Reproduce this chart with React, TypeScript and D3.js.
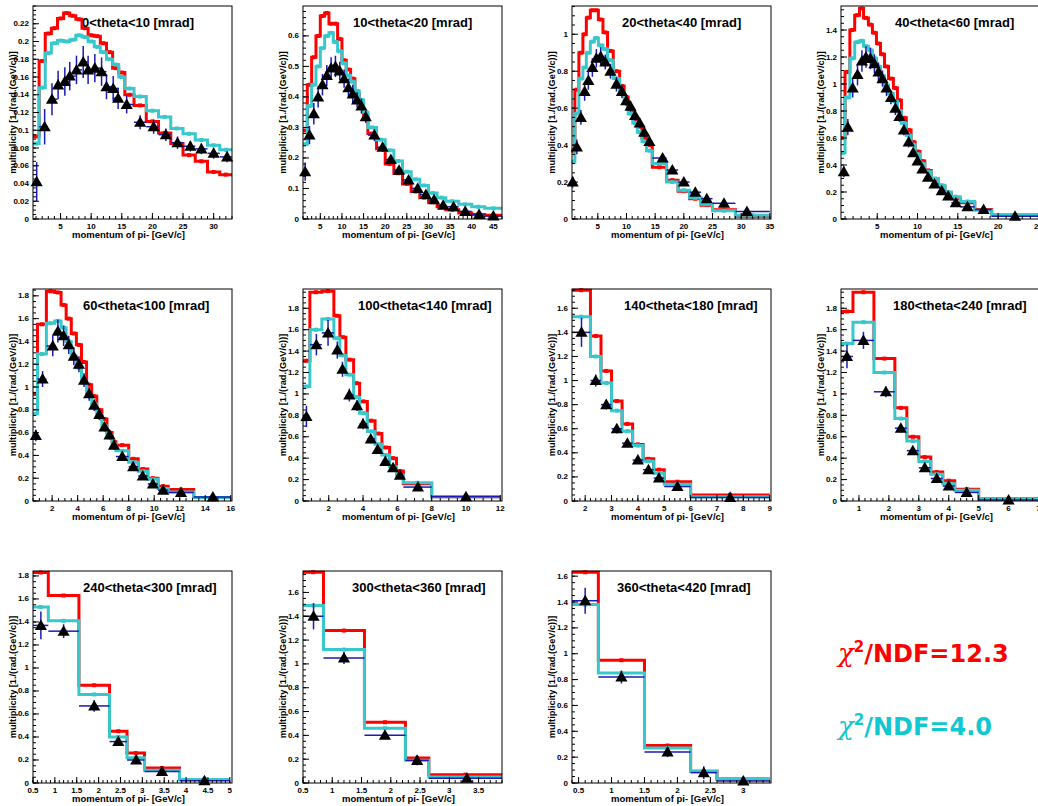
import React from "react";
import * as d3 from "d3";

// ---------------- data ----------------
const titles = [
  "0<theta<10 [mrad]",
  "10<theta<20 [mrad]",
  "20<theta<40 [mrad]",
  "40<theta<60 [mrad]",
  "60<theta<100 [mrad]",
  "100<theta<140 [mrad]",
  "140<theta<180 [mrad]",
  "180<theta<240 [mrad]",
  "240<theta<300 [mrad]",
  "300<theta<360 [mrad]",
  "360<theta<420 [mrad]",
];
const yTitle = "multiplicity [1./(rad.(GeV/c))]";
const xTitle = "momentum of pi- [GeV/c]";
const chi2Red = "12.3";
const chi2Cyan = "4.0";

// panel 1: 0<theta<10
const edges1 = [0.5, 1.5, 2.5, 3.5, 4.5, 5.5, 6.5, 7.5, 8.5, 9.5, 10.5, 11.5, 12.5, 13.5, 14.5, 15.5, 17, 19, 21, 23, 25, 27, 29, 31, 33];
const red1 = [0.093, 0.178, 0.209, 0.215, 0.226, 0.232, 0.229, 0.225, 0.215, 0.207, 0.206, 0.198, 0.188, 0.17, 0.165, 0.14, 0.128, 0.11, 0.097, 0.085, 0.072, 0.065, 0.053, 0.05];
const cyan1 = [0.085, 0.148, 0.187, 0.198, 0.201, 0.2, 0.202, 0.207, 0.205, 0.2, 0.194, 0.188, 0.18, 0.174, 0.16, 0.147, 0.138, 0.122, 0.115, 0.102, 0.096, 0.089, 0.083, 0.078];
const dataX1 = [1.1, 2.4, 3.6, 4.6, 5.7, 6.5, 7.6, 8.7, 9.5, 10.6, 11.7, 12.5, 13.6, 14.4, 15.8, 18, 20.2, 22.2, 24.1, 26.2, 28, 30, 32.2];
const dataY1 = [0.042, 0.104, 0.135, 0.151, 0.155, 0.161, 0.168, 0.177, 0.168, 0.17, 0.166, 0.149, 0.147, 0.136, 0.129, 0.109, 0.104, 0.095, 0.086, 0.082, 0.079, 0.074, 0.07];
const err1 = [0.022, 0.02, 0.018, 0.016, 0.016, 0.016, 0.016, 0.018, 0.016, 0.016, 0.016, 0.014, 0.014, 0.012, 0.01, 0.008, 0.008, 0.007, 0.007, 0.006, 0.006, 0.006, 0.006];

// panel 2: 10<theta<20
const edges2 = [1, 2, 3, 4, 5, 6, 7, 8, 9, 10, 11, 12, 13, 14, 15, 16, 18, 20, 22, 24, 26, 28, 30, 32, 34, 37, 40, 43, 47];
const red2 = [0.29, 0.44, 0.53, 0.6, 0.665, 0.675, 0.64, 0.64, 0.59, 0.52, 0.49, 0.46, 0.41, 0.38, 0.34, 0.28, 0.23, 0.18, 0.15, 0.115, 0.09, 0.07, 0.055, 0.04, 0.03, 0.02, 0.015, 0.012];
const cyan2 = [0.245, 0.37, 0.44, 0.5, 0.56, 0.6, 0.61, 0.58, 0.55, 0.51, 0.47, 0.45, 0.42, 0.39, 0.35, 0.3, 0.26, 0.225, 0.19, 0.155, 0.13, 0.11, 0.085, 0.07, 0.058, 0.048, 0.04, 0.035];
const dataX2 = [1.5, 2.5, 3.5, 4.5, 5.5, 6.5, 7.5, 8.5, 9.5, 10.5, 11.5, 12.5, 13.5, 14.5, 15.5, 17.5, 19.4, 21.3, 23.2, 25.4, 27.5, 29.4, 31.3, 33.4, 35.8, 38.5, 41.7, 45];
const dataY2 = [0.155, 0.275, 0.345, 0.4, 0.44, 0.47, 0.495, 0.5, 0.485, 0.46, 0.43, 0.41, 0.39, 0.37, 0.335, 0.275, 0.235, 0.195, 0.16, 0.128, 0.1, 0.08, 0.063, 0.045, 0.04, 0.025, 0.015, 0.01];
const err2 = [0.03, 0.03, 0.035, 0.035, 0.035, 0.035, 0.035, 0.035, 0.03, 0.03, 0.03, 0.03, 0.025, 0.025, 0.02, 0.02, 0.015, 0.015, 0.012, 0.01, 0.01, 0.008, 0.007, 0.006, 0.005, 0.005, 0.004, 0.004];

// panel 3: 20<theta<40
const edges3 = [0.5, 1.0, 1.7, 2.4, 3.0, 3.7, 4.4, 5.1, 5.9, 6.7, 7.7, 8.8, 9.6, 10.3, 11.1, 11.9, 12.7, 13.5, 14.5, 17, 19, 21, 23, 25, 29, 35];
const red3 = [0.37, 0.7, 0.9, 1.0, 1.09, 1.13, 1.13, 1.08, 1.01, 0.91, 0.8, 0.72, 0.66, 0.6, 0.55, 0.5, 0.44, 0.4, 0.28, 0.21, 0.15, 0.11, 0.075, 0.05, 0.015];
const cyan3 = [0.31, 0.57, 0.76, 0.82, 0.9, 0.96, 0.98, 0.94, 0.92, 0.86, 0.76, 0.69, 0.63, 0.57, 0.52, 0.47, 0.42, 0.37, 0.3, 0.2, 0.155, 0.115, 0.08, 0.045, 0.02];
const dataX3 = [0.62, 1.35, 2.05, 2.7, 3.35, 4.05, 4.75, 5.5, 6.3, 7.2, 8.25, 9.2, 9.95, 10.7, 11.5, 12.3, 13.1, 14.0, 16.3, 18, 20, 22, 24, 27, 31];
const dataY3 = [0.2, 0.39, 0.55, 0.69, 0.75, 0.82, 0.87, 0.88, 0.85, 0.8, 0.73, 0.69, 0.64, 0.61, 0.56, 0.52, 0.47, 0.42, 0.33, 0.265, 0.2, 0.145, 0.11, 0.085, 0.04];
const err3 = [0.03, 0.04, 0.04, 0.05, 0.05, 0.05, 0.05, 0.05, 0.04, 0.04, 0.04, 0.035, 0.03, 0.03, 0.03, 0.025, 0.025, 0.02, 0.02, 0.015, 0.012, 0.01, 0.01, 0.008, 0.006];

// panel 4: 40<theta<60
const edges4 = [0.5, 1.0, 1.6, 2.2, 2.8, 3.3, 3.9, 4.4, 4.9, 5.4, 5.9, 6.4, 7.0, 7.5, 8.0, 8.6, 9.2, 9.7, 10.3, 10.9, 11.7, 12.6, 13.4, 14.2, 15.3, 17.1, 19.2, 25];
const red4 = [0.6, 1.09, 1.4, 1.51, 1.56, 1.49, 1.44, 1.38, 1.3, 1.22, 1.13, 1.04, 0.97, 0.88, 0.75, 0.66, 0.57, 0.5, 0.43, 0.36, 0.29, 0.24, 0.19, 0.15, 0.12, 0.07, 0.03];
const cyan4 = [0.49, 0.9, 1.19, 1.31, 1.32, 1.28, 1.25, 1.19, 1.13, 1.06, 0.99, 0.93, 0.87, 0.8, 0.71, 0.62, 0.55, 0.48, 0.41, 0.35, 0.3, 0.25, 0.2, 0.165, 0.13, 0.065, 0.03];
const dataX4 = [0.85, 1.35, 1.95, 2.55, 3.1, 3.6, 4.15, 4.65, 5.15, 5.65, 6.15, 6.7, 7.25, 7.75, 8.3, 8.9, 9.45, 10.0, 10.6, 11.3, 12.1, 13.0, 13.8, 14.75, 16.2, 18.2, 22.1];
const dataY4 = [0.35, 0.68, 0.97, 1.07, 1.17, 1.2, 1.19, 1.15, 1.09, 1.04, 0.97, 0.9, 0.82, 0.76, 0.66, 0.57, 0.49, 0.43, 0.37, 0.31, 0.26, 0.21, 0.17, 0.12, 0.09, 0.07, 0.02];
const err4 = [0.04, 0.06, 0.07, 0.08, 0.08, 0.08, 0.08, 0.07, 0.07, 0.06, 0.06, 0.05, 0.05, 0.04, 0.04, 0.04, 0.03, 0.03, 0.03, 0.02, 0.02, 0.02, 0.015, 0.012, 0.01, 0.008, 0.005];

// panel 5: 60<theta<100
const edges5 = [0.5, 0.85, 1.55, 2.2, 2.7, 3.1, 3.5, 3.9, 4.3, 4.7, 5.1, 5.5, 5.9, 6.3, 6.7, 7.0, 8.0, 8.75, 9.5, 10.3, 11.1, 13.1, 16];
const red5 = [0.94, 1.55, 1.84, 1.83, 1.72, 1.6, 1.47, 1.37, 1.22, 1.02, 0.92, 0.8, 0.72, 0.6, 0.52, 0.49, 0.37, 0.28, 0.2, 0.13, 0.1, 0.03];
const cyan5 = [0.765, 1.29, 1.56, 1.58, 1.52, 1.4, 1.27, 1.17, 1.05, 0.93, 0.85, 0.76, 0.66, 0.58, 0.5, 0.44, 0.34, 0.26, 0.19, 0.11, 0.08, 0.03];
const dataX5 = [0.72, 1.25, 2.05, 2.45, 2.9, 3.3, 3.7, 4.1, 4.5, 4.9, 5.3, 5.7, 6.1, 6.5, 6.85, 7.5, 8.35, 9.1, 9.9, 10.7, 12.1, 14.6];
const dataY5 = [0.575, 1.07, 1.36, 1.49, 1.45, 1.37, 1.27, 1.2, 1.06, 0.94, 0.84, 0.76, 0.65, 0.58, 0.49, 0.39, 0.3, 0.22, 0.15, 0.095, 0.075, 0.035];
const err5 = [0.05, 0.07, 0.09, 0.1, 0.09, 0.08, 0.08, 0.07, 0.06, 0.06, 0.05, 0.05, 0.04, 0.04, 0.04, 0.03, 0.03, 0.02, 0.02, 0.015, 0.012, 0.008];

// panel 6: 100<theta<140
const edges6 = [0.5, 0.9, 1.6, 2.3, 2.65, 3.0, 3.45, 3.8, 4.25, 4.7, 5.1, 5.55, 5.95, 6.35, 8, 12];
const red6 = [1.31, 1.95, 1.96, 1.73, 1.53, 1.32, 1.1, 0.93, 0.75, 0.63, 0.5, 0.4, 0.28, 0.16, 0.04];
const cyan6 = [1.07, 1.6, 1.7, 1.52, 1.36, 1.18, 0.97, 0.82, 0.65, 0.53, 0.43, 0.32, 0.24, 0.17, 0.04];
const dataX6 = [0.7, 1.28, 1.96, 2.5, 2.8, 3.2, 3.65, 4.0, 4.45, 4.85, 5.3, 5.75, 6.15, 7.2, 10];
const dataY6 = [0.79, 1.46, 1.57, 1.41, 1.23, 0.99, 0.89, 0.72, 0.58, 0.48, 0.37, 0.31, 0.24, 0.13, 0.04];
const err6 = [0.1, 0.1, 0.12, 0.08, 0.07, 0.06, 0.05, 0.05, 0.04, 0.04, 0.03, 0.03, 0.03, 0.02, 0.01];

// panel 7: 140<theta<180
const edges7 = [1.5, 2.2, 2.6, 3.0, 3.4, 3.8, 4.2, 4.6, 5.0, 6.0, 9.0];
const red7 = [1.75, 1.37, 1.08, 0.83, 0.64, 0.47, 0.35, 0.26, 0.16, 0.05];
const cyan7 = [1.53, 1.2, 0.98, 0.75, 0.58, 0.46, 0.33, 0.23, 0.14, 0.035];
const dataX7 = [1.86, 2.4, 2.8, 3.2, 3.6, 4.0, 4.4, 4.8, 5.5, 7.5];
const dataY7 = [1.4, 1.0, 0.8, 0.6, 0.48, 0.34, 0.26, 0.19, 0.12, 0.03];
const err7 = [0.12, 0.05, 0.04, 0.04, 0.03, 0.03, 0.02, 0.02, 0.015, 0.01];

// panel 8: 180<theta<240
const edges8 = [0.4, 0.8, 1.5, 2.2, 2.6, 3.0, 3.4, 3.8, 4.2, 5.0, 7.0];
const red8 = [1.77, 1.95, 1.33, 0.87, 0.6, 0.41, 0.27, 0.19, 0.11, 0.02];
const cyan8 = [1.47, 1.67, 1.2, 0.77, 0.56, 0.37, 0.25, 0.16, 0.1, 0.02];
const dataX8 = [0.6, 1.15, 1.9, 2.4, 2.8, 3.2, 3.6, 4.0, 4.6, 6.0];
const dataY8 = [1.35, 1.5, 1.02, 0.68, 0.47, 0.31, 0.21, 0.14, 0.08, 0.01];
const err8 = [0.11, 0.08, 0.05, 0.04, 0.03, 0.02, 0.02, 0.015, 0.01, 0.01];

// panel 9: 240<theta<300
const edges9 = [0.5, 0.85, 1.55, 2.25, 2.65, 3.05, 3.85, 5.0];
const red9 = [1.83, 1.63, 0.85, 0.45, 0.26, 0.13, 0.03];
const cyan9 = [1.53, 1.41, 0.77, 0.4, 0.22, 0.11, 0.03];
const dataX9 = [0.68, 1.2, 1.9, 2.45, 2.86, 3.45, 4.42];
const dataY9 = [1.37, 1.32, 0.67, 0.36, 0.2, 0.1, 0.02];
const err9 = [0.12, 0.06, 0.05, 0.03, 0.02, 0.015, 0.01];

// panel 10: 300<theta<360
const edges10 = [0.5, 0.85, 1.55, 2.25, 2.65, 3.9];
const red10 = [1.77, 1.28, 0.51, 0.21, 0.07];
const cyan10 = [1.49, 1.12, 0.46, 0.19, 0.05];
const dataX10 = [0.68, 1.2, 1.9, 2.45, 3.3];
const dataY10 = [1.4, 1.05, 0.4, 0.19, 0.04];
const err10 = [0.11, 0.05, 0.03, 0.04, 0.03];

// panel 11: 360<theta<420
const edges11 = [0.4, 0.8, 1.5, 2.2, 2.6, 3.4];
const red11 = [1.63, 0.95, 0.29, 0.09, 0.03];
const cyan11 = [1.38, 0.85, 0.27, 0.09, 0.03];
const dataX11 = [0.6, 1.15, 1.85, 2.4, 3.0];
const dataY11 = [1.41, 0.82, 0.24, 0.08, 0.015];
const err11 = [0.1, 0.05, 0.04, 0.05, 0.04];

// axis domains and ticks
const xDomains = [[0.5, 33], [1, 47], [0.5, 35.2], [0.5, 25.2], [0.5, 16.1], [0.5, 12.1], [1.5, 9.05], [0.4, 7.05], [0.5, 5.05], [0.5, 3.9], [0.4, 3.42]];
const yMaxes = [0.24, 0.698, 1.153, 1.578, 1.86, 1.98, 1.76, 1.98, 1.843, 1.78, 1.64];
const xTicks = [
  [5, 10, 15, 20, 25, 30],
  [5, 10, 15, 20, 25, 30, 35, 40, 45],
  [5, 10, 15, 20, 25, 30, 35],
  [5, 10, 15, 20, 25],
  [2, 4, 6, 8, 10, 12, 14, 16],
  [2, 4, 6, 8, 10, 12],
  [2, 3, 4, 5, 6, 7, 8, 9],
  [1, 2, 3, 4, 5, 6, 7],
  [0.5, 1, 1.5, 2, 2.5, 3, 3.5, 4, 4.5, 5],
  [0.5, 1, 1.5, 2, 2.5, 3, 3.5],
  [0.5, 1, 1.5, 2, 2.5, 3],
];
const yTicks = [
  [0, 0.02, 0.04, 0.06, 0.08, 0.1, 0.12, 0.14, 0.16, 0.18, 0.2, 0.22],
  [0, 0.1, 0.2, 0.3, 0.4, 0.5, 0.6],
  [0, 0.2, 0.4, 0.6, 0.8, 1],
  [0, 0.2, 0.4, 0.6, 0.8, 1, 1.2, 1.4],
  [0, 0.2, 0.4, 0.6, 0.8, 1, 1.2, 1.4, 1.6, 1.8],
  [0, 0.2, 0.4, 0.6, 0.8, 1, 1.2, 1.4, 1.6, 1.8],
  [0, 0.2, 0.4, 0.6, 0.8, 1, 1.2, 1.4, 1.6],
  [0, 0.2, 0.4, 0.6, 0.8, 1, 1.2, 1.4, 1.6, 1.8],
  [0, 0.2, 0.4, 0.6, 0.8, 1, 1.2, 1.4, 1.6, 1.8],
  [0, 0.2, 0.4, 0.6, 0.8, 1, 1.2, 1.4, 1.6],
  [0, 0.2, 0.4, 0.6, 0.8, 1, 1.2, 1.4, 1.6],
];
const xMinorSteps = [1, 1, 1, 1, 0.5, 0.5, 0.2, 0.2, 0.1, 0.1, 0.1];
const yMinorSteps = [0.005, 0.02, 0.05, 0.05, 0.05, 0.05, 0.05, 0.05, 0.05, 0.05, 0.05];

const allEdges = [edges1, edges2, edges3, edges4, edges5, edges6, edges7, edges8, edges9, edges10, edges11];
const allRed = [red1, red2, red3, red4, red5, red6, red7, red8, red9, red10, red11];
const allCyan = [cyan1, cyan2, cyan3, cyan4, cyan5, cyan6, cyan7, cyan8, cyan9, cyan10, cyan11];
const allDX = [dataX1, dataX2, dataX3, dataX4, dataX5, dataX6, dataX7, dataX8, dataX9, dataX10, dataX11];
const allDY = [dataY1, dataY2, dataY3, dataY4, dataY5, dataY6, dataY7, dataY8, dataY9, dataY10, dataY11];
const allErr = [err1, err2, err3, err4, err5, err6, err7, err8, err9, err10, err11];

// ---------------- layout / style ----------------
const W = 1038;
const H = 806;
const colLeft = [33, 303, 572, 841];
const rowTB = [[6, 219], [289, 501], [571, 783]];
const panelW = 199;
const titleOffsets = [49, 50, 50, 54, 50, 55, 52, 52, 50, 49, 45];
const FONT = "'Liberation Sans', Arial, Helvetica, sans-serif";
const RED = "#ff0000";
const CYAN = "#38c8cc";
const ERR = "#1a1ab4";

function Panel({ i }: { i: number }) {
  const row = Math.floor(i / 4);
  const col = i % 4;
  const left = colLeft[col];
  const right = left + panelW;
  const [top, bottom] = rowTB[row];
  const edges = allEdges[i];
  const x = d3.scaleLinear().domain(xDomains[i]).range([left, right]);
  const y = d3.scaleLinear().domain([0, yMaxes[i]]).range([bottom, top]);

  const line = d3
    .line<[number, number]>()
    .x((d) => x(d[0]))
    .y((d) => y(d[1]))
    .curve(d3.curveStepAfter);
  const pts = (vals: number[]): [number, number][] => [
    ...vals.map((v, k) => [edges[k], v] as [number, number]),
    [edges[vals.length], vals[vals.length - 1]] as [number, number],
  ];
  const centers = edges.slice(0, -1).map((e, k) => (e + edges[k + 1]) / 2);
  const binOf = (xv: number) => {
    const k = d3.bisectRight(edges, xv) - 1;
    return Math.max(0, Math.min(k, edges.length - 2));
  };
  const tri = d3.symbol(d3.symbolTriangle, 64)() as string;
  const minor = (lo: number, hi: number, step: number) =>
    d3
      .range(Math.ceil(lo / step - 1e-9), Math.floor(hi / step + 1e-9) + 1)
      .map((k) => k * step);

  const [x0, x1] = xDomains[i];
  const xMinor = minor(x0, x1, xMinorSteps[i]);
  const yMinor = minor(0, yMaxes[i], yMinorSteps[i]);
  const red = allRed[i];
  const cyan = allCyan[i];
  const dx = allDX[i];
  const dy = allDY[i];
  const de = allErr[i];

  return (
    <g>
      {/* histograms */}
      <path d={line(pts(red)) as string} fill="none" stroke={RED} strokeWidth={3} />
      {red.map((v, k) => (
        <rect key={"rm" + k} x={x(centers[k]) - 2} y={y(v) - 2} width={4} height={4} fill={RED} />
      ))}
      <path d={line(pts(cyan)) as string} fill="none" stroke={CYAN} strokeWidth={3} />
      {cyan.map((v, k) => (
        <rect key={"cm" + k} x={x(centers[k]) - 2} y={y(v) - 2} width={4} height={4} fill={CYAN} />
      ))}
      {/* data error bars */}
      {dx.map((xv, k) => {
        const b = binOf(xv);
        return (
          <g key={"e" + k} stroke={ERR} strokeWidth={1.5}>
            <line x1={x(edges[b])} x2={x(edges[b + 1])} y1={y(dy[k])} y2={y(dy[k])} />
            <line x1={x(xv)} x2={x(xv)} y1={y(Math.max(0, dy[k] - de[k]))} y2={y(dy[k] + de[k])} />
          </g>
        );
      })}
      {dx.map((xv, k) => (
        <path key={"t" + k} d={tri} transform={`translate(${x(xv)},${y(dy[k]) + 1})`} fill="#000" />
      ))}
      {/* frame */}
      <rect x={left} y={top} width={panelW} height={bottom - top} fill="none" stroke="#000" strokeWidth={1} />
      {/* ticks */}
      <g stroke="#000" strokeWidth={1}>
        {xMinor.map((t, k) => (
          <line key={"xm" + k} x1={x(t)} x2={x(t)} y1={bottom} y2={bottom - 3} />
        ))}
        {xTicks[i].map((t, k) => (
          <line key={"xM" + k} x1={x(t)} x2={x(t)} y1={bottom} y2={bottom - 6} />
        ))}
        {yMinor.map((t, k) => (
          <line key={"ym" + k} x1={left} x2={left + 3} y1={y(t)} y2={y(t)} />
        ))}
        {yTicks[i].map((t, k) => (
          <line key={"yM" + k} x1={left} x2={left + 6} y1={y(t)} y2={y(t)} />
        ))}
      </g>
      <g fontFamily={FONT} fontWeight="bold" fontSize={8} fill="#000">
        {xTicks[i].map((t, k) => (
          <text key={"xl" + k} x={x(t)} y={bottom + 9.5} textAnchor="middle">
            {String(t)}
          </text>
        ))}
        {yTicks[i].map((t, k) => (
          <text key={"yl" + k} x={left - 4} y={y(t) + 2.5} textAnchor="end">
            {String(t)}
          </text>
        ))}
      </g>
      <text
        x={(left + right) / 2 - 4}
        y={bottom + 19}
        textAnchor="middle"
        fontFamily={FONT}
        fontWeight="bold"
        fontSize={9.5}
        fill="#000"
      >
        {xTitle}
      </text>
      <text
        transform={`translate(${left - 17},${(top + bottom) / 2}) rotate(-90)`}
        textAnchor="middle"
        fontFamily={FONT}
        fontWeight="bold"
        fontSize={9.2}
        fill="#000"
      >
        {yTitle}
      </text>
      <text x={left + titleOffsets[i]} y={top + 20.5} fontFamily={FONT} fontWeight="bold" fontSize={13} fill="#000">
        {titles[i]}
      </text>
    </g>
  );
}

export default function App() {
  return (
    <svg
      width={W}
      height={H}
      style={{ position: "absolute", left: 0, top: 0, display: "block" }}
      xmlns="http://www.w3.org/2000/svg"
    >
      <rect width={W} height={H} fill="#fff" />
      {titles.map((_, i) => (
        <Panel key={i} i={i} />
      ))}
      <text x={838} y={662} fill="#ff0000" fontFamily="'DejaVu Sans', sans-serif" fontWeight="bold" fontSize={24}>
        <tspan fontFamily="'DejaVu Serif', 'Liberation Serif', serif" fontStyle="italic" fontWeight="normal" fontSize={26}>
          χ
        </tspan>
        <tspan fontSize={15} dy={-10}>
          2
        </tspan>
        <tspan dy={10}>{"/NDF=" + chi2Red}</tspan>
      </text>
      <text x={838} y={735} fill="#10c8d0" fontFamily="'DejaVu Sans', sans-serif" fontWeight="bold" fontSize={24}>
        <tspan fontFamily="'DejaVu Serif', 'Liberation Serif', serif" fontStyle="italic" fontWeight="normal" fontSize={26}>
          χ
        </tspan>
        <tspan fontSize={15} dy={-10}>
          2
        </tspan>
        <tspan dy={10}>{"/NDF=" + chi2Cyan}</tspan>
      </text>
    </svg>
  );
}
